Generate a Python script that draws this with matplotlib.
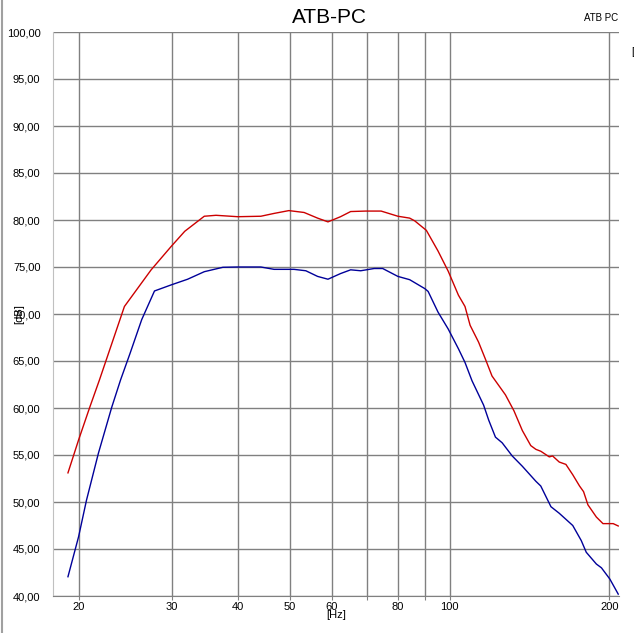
import matplotlib
matplotlib.use("Agg")
import matplotlib.pyplot as plt
from matplotlib.ticker import FixedLocator, FixedFormatter, NullLocator

plt.rcParams['font.family'] = ['Liberation Sans', 'DejaVu Sans']

# red curve (frequency in Hz, level in dB)
red_f = [19.1, 20.0, 21.0, 21.9, 24.4, 27.4, 29.9, 31.7, 34.5, 36.3, 39.9, 44.1,
         46.7, 49.8, 53.2, 56.4, 59.0, 62.3, 65.1, 69.5, 74.3, 79.9, 84.1, 86.0,
         90.4, 95.1, 99.4, 103.9, 106.9, 109.3, 113.4, 116.8, 120.2, 127.4, 132.2,
         137.1, 142.2, 145.4, 148.5, 154.1, 156.3, 160.9, 165.6, 170.6, 175.7,
         178.8, 182.2, 189.0, 194.5, 198.9, 203.3, 207.8]
red_db = [53.1, 56.6, 60.1, 63.0, 70.8, 74.7, 77.2, 78.8, 80.4, 80.5, 80.35, 80.4,
          80.7, 81.0, 80.8, 80.2, 79.8, 80.35, 80.9, 80.95, 80.95, 80.4, 80.2, 79.9,
          78.9, 76.7, 74.55, 72.0, 70.8, 68.8, 67.0, 65.2, 63.4, 61.4, 59.7,
          57.6, 56.0, 55.6, 55.4, 54.8, 54.9, 54.25, 54.0, 52.9, 51.7,
          51.1, 49.7, 48.4, 47.7, 47.7, 47.7, 47.45]

# blue curve
blue_f = [19.1, 20.0, 20.7, 21.8, 23.1, 24.0, 25.0, 26.3, 27.8, 29.9, 32.1, 34.5,
          37.4, 39.9, 44.1, 46.7, 50.9, 53.6, 56.4, 59.0, 62.3, 65.1, 68.0, 72.1,
          74.8, 79.9, 84.1, 89.8, 91.1, 95.1, 99.4, 103.9, 106.9, 110.2, 115.9,
          118.5, 122.0, 125.6, 131.2, 137.1, 145.4, 148.5, 155.2, 160.9, 170.6,
          177.0, 180.9, 189.0, 193.2, 200.4, 207.8]
blue_db = [42.05, 46.3, 50.2, 55.2, 60.1, 63.0, 65.8, 69.4, 72.45, 73.1, 73.7, 74.5,
           74.97, 75.0, 75.0, 74.75, 74.75, 74.6, 74.0, 73.7, 74.3, 74.7, 74.6, 74.84,
           74.84, 74.0, 73.65, 72.7, 72.4, 70.2, 68.4, 66.3, 64.85, 62.9, 60.3,
           58.7, 56.9, 56.3, 54.9, 53.8, 52.2, 51.7, 49.5, 48.8, 47.5,
           45.9, 44.65, 43.4, 43.0, 41.8, 40.2]

x_ticks = [20, 30, 40, 50, 60, 70, 80, 90, 100, 200]
x_labels = ['20', '30', '40', '50', '60', '', '80', '', '100', '200']
y_ticks = [40, 45, 50, 55, 60, 65, 70, 75, 80, 85, 90, 95, 100]

fig = plt.figure(figsize=(6.34, 6.33), dpi=100)
ax = fig.add_axes([53/634, 37/633, 566/634, 564/633])

ax.plot(red_f, red_db, color='#cc0000', lw=1.0, zorder=3)
ax.plot(blue_f, blue_db, color='#000099', lw=1.0, zorder=3)

ax.set_xscale('log')
ax.set_xlim(17.9, 208.5)
ax.set_ylim(40, 100)
ax.xaxis.set_major_locator(FixedLocator(x_ticks))
ax.xaxis.set_major_formatter(FixedFormatter(x_labels))
ax.xaxis.set_minor_locator(NullLocator())
ax.set_yticks(y_ticks)
ax.set_yticklabels([('%.2f' % v).replace('.', ',') for v in y_ticks])

ax.grid(True, color='#808080', lw=1.0, zorder=1)
for s in ['top', 'right']:
    ax.spines[s].set_visible(False)
ax.spines['left'].set_color('#c0c0c0')
ax.spines['bottom'].set_color('#808080')
ax.tick_params(axis='x', length=3, color='#808080', labelsize=8, pad=1)
ax.tick_params(axis='y', length=0, labelsize=8, pad=9)

ax.set_xlabel('[Hz]', fontsize=8, labelpad=-1)
ax.text(-0.06, 0.5, '[dB]', transform=ax.transAxes, rotation=90,
        ha='center', va='center', fontsize=8)

fig.text(0.52, 0.972, 'ATB-PC', ha='center', va='center', fontsize=15)
fig.text(0.975, 0.972, 'ATB PC', ha='right', va='center', fontsize=7)
fig.text(0.995, 0.918, '[', ha='left', va='center', fontsize=8)

# left frame edge
fig.add_artist(plt.Line2D([0.003, 0.003], [0, 1], color='#a0a0a0', lw=1.5,
                          transform=fig.transFigure))

fig.savefig('out.png', dpi=100)
